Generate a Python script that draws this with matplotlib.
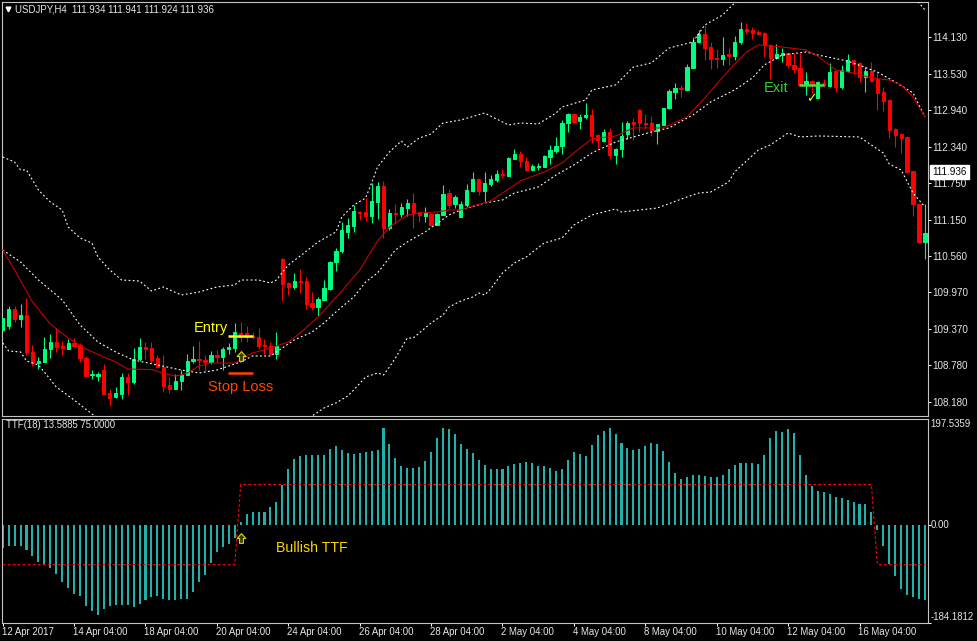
#!/usr/bin/env python3
# encoding: utf-8

import numpy as np
from matplotlib import pyplot as plt
from matplotlib.path import Path
from matplotlib.transforms import ScaledTranslation

W, H = 977, 641

# candles
opens = [109.352, 109.417, 109.694, 109.531, 109.597, 108.998, 108.818, 108.829, 109.036, 109.156,
         109.085, 109.042, 109.140, 109.112, 108.889, 108.612, 108.606, 108.699, 108.318, 108.258,
         108.312, 108.585, 108.503, 108.878, 109.074, 109.058, 108.889, 108.753, 108.454, 108.389,
         108.514, 108.612, 108.840, 108.878, 108.862, 108.829, 108.938, 108.916, 109.036, 109.063,
         109.308, 109.297, 109.259, 109.232, 109.107, 109.091, 108.954, 110.511, 110.113, 110.048,
         110.151, 110.151, 109.787, 109.733, 109.842, 110.021, 110.467, 110.641, 110.951, 111.049,
         111.283, 111.278, 111.213, 111.441, 111.702, 111.017, 111.262, 111.240, 111.343, 111.425,
         111.278, 111.213, 111.251, 111.071, 111.229, 111.583, 111.408, 111.202, 111.398, 111.615,
         111.817, 111.621, 111.735, 111.795, 111.904, 111.871, 112.148, 112.225, 112.110, 111.958,
         112.018, 112.012, 112.176, 112.268, 112.350, 112.725, 112.877, 112.769, 112.823, 112.862,
         112.535, 112.432, 112.584, 112.203, 112.307, 112.546, 112.742, 112.943, 112.731, 112.726,
         112.606, 112.704, 112.976, 113.237, 113.303, 113.275, 113.629, 114.053, 114.184, 113.972,
         113.787, 113.776, 113.852, 113.825, 114.048, 114.266, 114.249, 114.222, 114.206, 113.999,
         113.787, 113.847, 113.868, 113.678, 113.624, 113.346, 113.417, 113.134, 113.390, 113.335,
         113.575, 113.313, 113.575, 113.765, 113.705, 113.482, 113.586, 113.444, 113.237, 113.107,
         112.633, 112.546, 112.508, 111.948, 111.404, 110.789]
highs = [109.553, 109.743, 109.743, 109.776, 109.869, 109.107, 108.916, 109.232, 109.286, 109.379,
         109.178, 109.199, 109.216, 109.145, 108.927, 108.699, 108.666, 108.797, 108.383, 108.427,
         108.655, 108.644, 109.052, 109.216, 109.150, 109.150, 108.944, 108.944, 108.590, 108.634,
         108.699, 108.960, 109.091, 109.178, 108.944, 109.014, 109.025, 109.069, 109.134, 109.461,
         109.477, 109.417, 109.325, 109.379, 109.199, 109.161, 109.319, 110.527, 110.130, 110.277,
         110.342, 110.222, 109.967, 109.896, 110.168, 110.480, 110.685, 111.109, 111.180, 111.387,
         111.294, 111.512, 111.757, 111.762, 111.784, 111.321, 111.408, 111.425, 111.495, 111.593,
         111.283, 111.354, 111.251, 111.256, 111.719, 111.648, 111.561, 111.457, 111.735, 111.925,
         111.827, 111.925, 111.876, 111.963, 111.974, 112.176, 112.306, 112.279, 112.176, 112.061,
         112.072, 112.203, 112.371, 112.497, 112.780, 112.888, 112.888, 112.872, 113.052, 112.965,
         112.552, 112.628, 112.644, 112.329, 112.748, 112.764, 112.807, 112.965, 112.878, 112.851,
         112.715, 112.982, 113.292, 113.379, 113.352, 113.694, 114.130, 114.249, 114.336, 114.059,
         113.934, 114.130, 113.961, 114.151, 114.374, 114.358, 114.304, 114.249, 114.217, 114.015,
         114.021, 113.961, 113.879, 113.868, 113.879, 113.564, 113.433, 113.411, 113.450, 113.705,
         113.586, 113.678, 113.858, 113.776, 113.732, 113.651, 113.732, 113.564, 113.313, 113.118,
         112.644, 112.563, 112.519, 111.953, 111.420, 111.408]
lows = [109.335, 109.363, 109.477, 109.406, 108.944, 108.764, 108.710, 108.829, 108.895, 108.998,
        108.938, 109.042, 109.096, 108.835, 108.601, 108.557, 108.525, 108.312, 108.117, 108.247,
        108.220, 108.296, 108.465, 108.851, 108.878, 108.808, 108.742, 108.334, 108.318, 108.389,
        108.372, 108.612, 108.808, 108.699, 108.688, 108.797, 108.835, 108.699, 108.960, 108.998,
        109.161, 109.161, 109.199, 109.036, 108.960, 108.944, 108.873, 109.831, 109.923, 110.016,
        109.950, 109.689, 109.678, 109.580, 109.825, 110.010, 110.320, 110.603, 110.853, 110.951,
        111.147, 111.136, 111.104, 111.164, 110.848, 110.984, 111.093, 111.191, 111.213, 111.017,
        111.115, 111.115, 111.055, 111.060, 111.229, 111.349, 111.338, 111.196, 111.354, 111.604,
        111.555, 111.447, 111.708, 111.773, 111.827, 111.860, 112.137, 112.007, 111.947, 111.947,
        111.969, 112.012, 112.061, 112.246, 112.225, 112.584, 112.736, 112.633, 112.796, 112.399,
        112.307, 112.416, 112.138, 112.067, 112.182, 112.470, 112.454, 112.579, 112.644, 112.519,
        112.394, 112.693, 112.965, 113.129, 113.161, 113.275, 113.629, 114.032, 113.760, 113.613,
        113.629, 113.683, 113.673, 113.760, 114.021, 114.184, 114.108, 114.179, 113.814, 113.455,
        113.771, 113.732, 113.629, 113.553, 113.335, 113.188, 113.215, 113.129, 113.313, 113.324,
        113.243, 113.281, 113.564, 113.531, 113.401, 113.237, 113.406, 112.943, 112.933, 112.486,
        112.345, 112.236, 111.921, 111.213, 110.767, 110.511]
closes = [109.540, 109.694, 109.531, 109.597, 108.998, 108.808, 108.840, 109.042, 109.156, 109.069,
          109.063, 109.140, 109.096, 108.889, 108.606, 108.628, 108.639, 108.312, 108.247, 108.323,
          108.585, 108.503, 108.884, 109.069, 109.042, 108.862, 108.753, 108.443, 108.389, 108.519,
          108.612, 108.851, 108.878, 108.857, 108.835, 108.944, 108.916, 109.042, 109.074, 109.319,
          109.232, 109.243, 109.232, 109.096, 109.091, 108.960, 109.091, 110.103, 110.048, 110.151,
          110.140, 109.776, 109.733, 109.852, 110.038, 110.462, 110.647, 110.979, 111.071, 111.294,
          111.267, 111.213, 111.452, 111.702, 111.022, 111.256, 111.251, 111.354, 111.425, 111.256,
          111.229, 111.267, 111.066, 111.245, 111.572, 111.398, 111.517, 111.408, 111.637, 111.817,
          111.615, 111.751, 111.817, 111.898, 111.887, 112.165, 112.225, 112.105, 111.963, 112.029,
          112.034, 112.192, 112.290, 112.355, 112.736, 112.877, 112.747, 112.828, 112.861, 112.524,
          112.448, 112.579, 112.203, 112.307, 112.524, 112.731, 112.715, 112.726, 112.710, 112.622,
          112.715, 112.982, 113.248, 113.297, 113.281, 113.645, 114.059, 114.184, 113.961, 113.776,
          113.776, 113.836, 113.825, 114.059, 114.266, 114.238, 114.206, 114.189, 113.999, 113.787,
          113.858, 113.868, 113.673, 113.613, 113.346, 113.417, 113.357, 113.401, 113.346, 113.564,
          113.313, 113.596, 113.760, 113.689, 113.488, 113.575, 113.417, 113.226, 113.090, 112.622,
          112.530, 112.492, 111.931, 111.409, 110.783, 110.936]

# outer upper band, goes off the top of the window past bar 123
upper_bars = [0, 2, 3, 4, 5, 6, 8, 10, 11, 13, 15, 16, 18, 20, 23, 25, 27, 30, 33, 36, 39, 40, 43, 45, 46,
              48, 50, 53, 56, 57, 59, 61, 62, 63, 65, 67, 68, 70, 72, 74, 77, 81, 85, 87, 90, 93, 94, 98,
              99, 103, 106, 109, 112, 116, 118, 121, 123, 126, 130, 134, 138, 142, 146, 150, 153, 154, 155]
upper_band = [112.176, 112.095, 111.964, 111.964, 111.801, 111.637, 111.441, 111.311, 111.033, 110.854,
              110.772, 110.544, 110.331, 110.168, 110.152, 109.989, 110.054, 109.923, 109.972, 110.054,
              110.087, 110.168, 110.168, 110.119, 110.168, 110.413, 110.560, 110.789, 110.952, 111.197,
              111.393, 111.507, 111.752, 112.013, 112.258, 112.437, 112.339, 112.486, 112.552, 112.731,
              112.780, 112.894, 112.698, 112.731, 112.715, 112.894, 112.992, 113.107, 113.270, 113.351,
              113.645, 113.711, 113.955, 114.053, 114.331, 114.494, 114.690, 114.900, 115.000, 115.050,
              115.000, 114.950, 114.950, 114.950, 114.780, 114.690, 114.576]

# inner dotted line, runs next to the red average
inner_bars = [0, 3, 6, 10, 13, 16, 19, 22, 26, 30, 33, 36, 40, 42, 45, 49, 52, 54, 56, 59, 61, 63, 66, 68,
              71, 75, 77, 81, 84, 86, 90, 93, 96, 99, 103, 109, 112, 116, 119, 123, 126, 128, 131, 135,
              137, 142, 147, 150, 153, 155]
inner_band = [110.658, 110.462, 110.168, 109.842, 109.434, 109.156, 108.993, 108.862, 108.781, 108.699,
              108.650, 108.699, 108.830, 108.928, 108.928, 109.189, 109.319, 109.466, 109.646, 109.891,
              110.136, 110.283, 110.658, 110.789, 110.952, 111.229, 111.311, 111.425, 111.474, 111.588,
              111.686, 111.882, 112.046, 112.241, 112.421, 112.584, 112.650, 112.862, 113.074, 113.270,
              113.466, 113.678, 113.841, 113.890, 113.841, 113.743, 113.564, 113.400, 113.221, 112.829]

# outer lower band, below the window from bar 15 to bar 52
lower_bars = [0, 1, 3, 4, 6, 7, 9, 12, 15, 18, 22, 27, 32, 37, 42, 47, 52, 54, 56, 58, 59, 61, 63, 64, 65,
              66, 67, 68, 69, 70, 72, 74, 75, 77, 79, 80, 81, 82, 84, 86, 88, 91, 94, 96, 99, 103, 104,
              110, 115, 117, 119, 122, 123, 127, 129, 132, 134, 137, 144, 148, 149, 151, 153, 155]
lower_band = [109.140, 109.009, 108.993, 108.846, 108.781, 108.666, 108.422, 108.209, 107.981, 107.800,
              107.650, 107.550, 107.500, 107.500, 107.550, 107.700, 107.948, 108.079, 108.160, 108.275,
              108.373, 108.585, 108.650, 108.617, 108.748, 108.895, 109.058, 109.221, 109.221, 109.303,
              109.466, 109.597, 109.727, 109.825, 109.891, 109.956, 109.923, 110.021, 110.283, 110.446,
              110.544, 110.772, 110.854, 111.066, 111.229, 111.327, 111.278, 111.343, 111.523, 111.588,
              111.605, 111.768, 111.931, 112.290, 112.372, 112.568, 112.503, 112.519, 112.503, 112.241,
              112.062, 111.964, 111.588, 111.360]

# red moving average
ma_bars = [0, 2, 5, 8, 11, 14, 17, 19, 21, 25, 27, 29, 30, 31, 33, 35, 39, 42, 45, 48, 50, 53, 57, 60, 63,
           65, 68, 70, 73, 75, 77, 79, 82, 84, 87, 91, 94, 97, 99, 103, 106, 111, 115, 118, 120, 123, 125,
           127, 131, 135, 137, 140, 143, 146, 149, 151, 153, 155]
ma_line = [110.658, 110.331, 109.809, 109.450, 109.221, 109.042, 108.911, 108.830, 108.715, 108.707,
           108.650, 108.601, 108.617, 108.650, 108.764, 108.813, 108.813, 108.977, 109.058, 109.156,
           109.303, 109.564, 109.989, 110.331, 110.805, 111.033, 111.229, 111.262, 111.278, 111.311,
           111.311, 111.376, 111.458, 111.588, 111.784, 111.931, 112.078, 112.323, 112.470, 112.519,
           112.650, 112.650, 112.829, 113.139, 113.368, 113.694, 113.890, 114.004, 113.972, 113.923,
           113.825, 113.596, 113.547, 113.466, 113.433, 113.351, 113.155, 112.829]

# TTF histogram, one value per bar
ttf_hist = [-43.1, -40.6, -39.4, -39.4, -48.1, -58.1, -69.4, -75.6, -81.3, -91.9,
            -108.1, -118.1, -129.4, -133.1, -151.9, -162.5, -168.8, -157.5, -153.1, -150.0,
            -150.0, -150.0, -153.8, -148.1, -140.6, -135.0, -133.8, -138.8, -141.3, -140.6,
            -140.0, -138.8, -126.9, -106.9, -93.8, -71.3, -50.6, -41.3, -36.9, -24.4,
            5.6, 20.6, 24.4, 24.4, 24.4, 33.1, 43.1, 74.4, 103.1, 121.9,
            127.5, 129.4, 130.6, 130.6, 129.4, 140.6, 146.9, 138.8, 133.1, 131.3,
            133.1, 135.0, 137.5, 138.8, 180.6, 150.0, 123.8, 109.4, 105.0, 105.0,
            106.9, 118.1, 135.0, 161.3, 180.6, 178.1, 168.8, 150.0, 141.9, 133.1,
            120.0, 110.6, 103.1, 103.1, 104.4, 108.8, 112.5, 115.6, 116.3, 114.4,
            110.0, 108.8, 105.0, 100.0, 103.1, 120.0, 135.0, 131.3, 127.5, 148.1,
            166.9, 175.0, 180.6, 169.4, 151.9, 142.5, 138.8, 141.9, 146.3, 151.9,
            150.0, 137.5, 116.3, 95.6, 84.4, 88.1, 93.1, 91.9, 90.0, 88.8,
            88.1, 91.9, 104.4, 110.6, 115.6, 115.6, 114.4, 112.5, 129.4, 161.3,
            174.4, 172.5, 179.4, 170.6, 130.6, 91.9, 71.9, 61.9, 60.6, 58.1,
            52.5, 50.0, 46.9, 43.1, 39.4, 38.8, 23.1, -9.4, -40.6, -73.1,
            -96.9, -120.0, -131.3, -135.0, -138.8, -140.6]
ttf_level = [-75.0] * 40 + [75.0] * 107 + [-75.0] * 9

price_ticks = [114.130, 113.530, 112.940, 112.340, 111.750, 111.150, 110.560, 109.970, 109.370, 108.780, 108.180]
date_bars = [0, 12, 24, 36, 48, 60, 72, 84, 96, 108, 120, 132, 144]
date_labels = ['12 Apr 2017', '14 Apr 04:00', '18 Apr 04:00', '20 Apr 04:00', '24 Apr 04:00', '26 Apr 04:00',
               '28 Apr 04:00', '2 May 04:00', '4 May 04:00', '8 May 04:00', '10 May 04:00', '12 May 04:00',
               '16 May 04:00']

last_price = 111.936
entry_price, stop_price, exit_price = 109.262, 108.658, 113.343
signal_bar = 40
signal_price = 108.928
signal_ttf = -24.4

plt.rcParams['font.family'] = ['Liberation Sans', 'DejaVu Sans']
AXIS_GREY = '#c4c4c4'
TEXT_GREY = '#e8e8e8'
SMALL = 6.9
BULL, BEAR = '#00ff7f', '#ff0000'


def panel(top, bottom):
    # axes from pixel rows, bars are 5.95 px apart with the first one at x=2.7
    left, right = 1.7, 928
    ax = fig.add_axes([left / W, 1 - bottom / H, (right - left) / W, (bottom - top) / H])
    ax.set_facecolor('black')
    ax.set_xlim((left - 2.7) / 5.95, (right - 2.7) / 5.95)
    for spine in ax.spines.values():
        spine.set_color(AXIS_GREY)
        spine.set_linewidth(0.8)
    ax.yaxis.tick_right()
    return ax


fig = plt.figure(figsize=(W / 100, H / 100), dpi=100, facecolor='black')

# price window
ax = panel(2, 416)
ax.set_ylim(107.948, 114.706)
bars = np.arange(len(opens))
op, hi, lo, cl = map(np.array, (opens, highs, lows, closes))
colors = np.where(cl >= op, BULL, BEAR)
ax.vlines(bars, lo, hi, colors=colors, linewidth=0.8, zorder=2)
ax.bar(bars, np.abs(cl - op), bottom=np.minimum(op, cl), width=0.55, color=colors,
       edgecolor=colors, linewidth=0.7, zorder=3)

dots = (0, (1.6, 2.2))
for xs, ys in ((upper_bars, upper_band), (inner_bars, inner_band), (lower_bars, lower_band)):
    ax.plot(xs, ys, color='white', linewidth=0.8, linestyle=dots, zorder=4)
ax.plot(ma_bars, ma_line, color='#d00000', linewidth=0.75, zorder=5)

ax.set_yticks(price_ticks, ['%.3f' % p for p in price_ticks])
ax.set_xticks([])
ax.tick_params(axis='y', colors='white', labelcolor=TEXT_GREY, labelsize=7.1, length=2.2, width=0.7, pad=1)

# header
ax.text(15 / W, 1 - 9 / H, 'USDJPY,H4  111.934 111.941 111.924 111.936', transform=fig.transFigure,
        color=TEXT_GREY, fontsize=SMALL, va='center')
ax.plot([8 / W], [1 - 9 / H], transform=fig.transFigure, marker='v', color='white', markersize=3.4, clip_on=False)

# current price tag
ax.annotate('%.3f' % last_price, xy=(1, last_price), xycoords=('axes fraction', 'data'), xytext=(3, 0),
            textcoords='offset points', color='black', fontsize=7.1, va='center',
            bbox=dict(boxstyle='square,pad=0.22', facecolor='white', edgecolor='white'), annotation_clip=False)

# trade markup
arrow = Path([(0, 1), (-0.9, 0), (-0.4, 0), (-0.4, -1), (0.4, -1), (0.4, 0), (0.9, 0), (0, 1)], closed=True)
ax.hlines(entry_price, 37.9, 42, color='#ffff00', linewidth=1.8, zorder=6)
ax.hlines(stop_price, 37.9, 42, color='#ff4500', linewidth=1.8, zorder=6)
ax.hlines(exit_price, 133.8, 138, color='#44dd44', linewidth=1.8, zorder=6)
ax.plot([signal_bar], [signal_price], marker=arrow, markersize=7, markerfacecolor='#3c3c00',
        markeredgecolor='#d8d800', markeredgewidth=0.8, zorder=6)
ax.text(194 / W, 1 - 328.5 / H, 'Entry', transform=fig.transFigure, color='#ffff00', fontsize=10.5, va='center')
ax.text(208 / W, 1 - 386.5 / H, 'Stop Loss', transform=fig.transFigure, color='#ff4500', fontsize=10.5, va='center')
ax.text(764 / W, 1 - 88 / H, 'Exit', transform=fig.transFigure, color='#32cd32', fontsize=10.5, va='center')
ax.text(811 / W, 1 - 99 / H, '\u2713', transform=fig.transFigure, color='#ffff00', fontsize=9,
        ha='center', va='center', family='DejaVu Sans', fontweight='bold', zorder=7)

# TTF window
ax2 = panel(419, 623)
ax2.set_ylim(-184.1812, 197.5359)
ax2.bar(np.arange(len(ttf_hist)), ttf_hist, width=0.34, color='#20b2aa', zorder=2)
ax2.plot(np.arange(len(ttf_level)), ttf_level, color='#ff0000', linewidth=0.8, linestyle=(0, (2.5, 2)), zorder=3)
ax2.plot([signal_bar], [signal_ttf], marker=arrow, markersize=7, markerfacecolor='#3c3c00',
         markeredgecolor='#d8d800', markeredgewidth=0.8, zorder=6)
ax2.text(6 / W, 1 - 425 / H, 'TTF(18) 13.5885 75.0000', transform=fig.transFigure, color=TEXT_GREY,
         fontsize=SMALL, va='center')
ax2.text(276 / W, 1 - 548.5 / H, 'Bullish TTF', transform=fig.transFigure, color='#ffd700', fontsize=10.2, va='center')

ax2.set_yticks([-184.1812, 0.0], ['', ''])
ax2.tick_params(axis='y', colors='white', length=2.2, width=0.7)
for label, row in (('197.5359', 424), ('0.00', 524.5), ('-184.1812', 617)):
    ax2.text(930.5 / W, 1 - row / H, label, transform=fig.transFigure, color=TEXT_GREY, fontsize=SMALL, va='center')

ax2.set_xticks(date_bars, date_labels, ha='left')
ax2.tick_params(axis='x', colors='white', labelcolor=TEXT_GREY, labelsize=SMALL, length=2.2, width=0.7, pad=1)
shift = ScaledTranslation(-1 / 100, 0, fig.dpi_scale_trans)
for tick in ax2.get_xticklabels():
    tick.set_transform(tick.get_transform() + shift)

fig.savefig('out.png', dpi=100, facecolor='black')
plt.close()
